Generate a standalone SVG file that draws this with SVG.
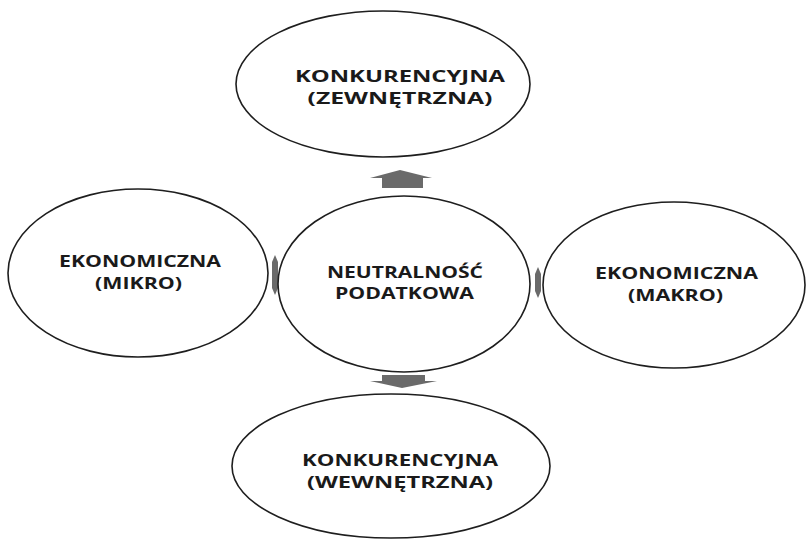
<svg xmlns="http://www.w3.org/2000/svg" width="806" height="543" viewBox="0 0 806 543">
<style>
.node ellipse{fill:#fff;stroke:#1e1e1e;stroke-width:1.6}
.node text{font-family:"Open Sans","DejaVu Sans",sans-serif;font-weight:bold;font-size:16px;fill:#1a1a1a;text-anchor:middle}
.arrow{fill:#6a6a6a}
</style>
<rect width="806" height="543" fill="#fff"/>
<g id="connectors">
<polygon class="arrow" points="400,170 432,178 423,178 423,188 382,188 382,178 370,178"/>
<polygon class="arrow" points="382,375 425,375 425,381 437,381 402,388 370,381 382,381"/>
<polygon class="arrow" points="275,255 278,262 278,288 275,295 272,288 272,262"/>
<polygon class="arrow" points="538,267 541,274 541,291 538,298 535,291 535,274"/>
</g>
<g id="node-top" class="node">
<ellipse cx="383" cy="84" rx="147" ry="73"/>
<text x="400" y="82" textLength="210" lengthAdjust="spacingAndGlyphs">KONKURENCYJNA</text>
<text x="400" y="104" textLength="185" lengthAdjust="spacingAndGlyphs">(ZEWNĘTRZNA)</text>
</g>
<g id="node-center" class="node">
<ellipse cx="404" cy="284" rx="126" ry="88"/>
<text x="405" y="278" textLength="156" lengthAdjust="spacingAndGlyphs">NEUTRALNOŚĆ</text>
<text x="404.5" y="299" textLength="139" lengthAdjust="spacingAndGlyphs">PODATKOWA</text>
</g>
<g id="node-left" class="node">
<ellipse cx="138" cy="273" rx="130" ry="84"/>
<text x="140" y="267" textLength="162" lengthAdjust="spacingAndGlyphs">EKONOMICZNA</text>
<text x="138.5" y="289" textLength="87" lengthAdjust="spacingAndGlyphs">(MIKRO)</text>
</g>
<g id="node-right" class="node">
<ellipse cx="674" cy="285" rx="131" ry="83"/>
<text x="676.5" y="279" textLength="163" lengthAdjust="spacingAndGlyphs">EKONOMICZNA</text>
<text x="675.5" y="301" textLength="95" lengthAdjust="spacingAndGlyphs">(MAKRO)</text>
</g>
<g id="node-bottom" class="node">
<ellipse cx="391" cy="466" rx="159" ry="72"/>
<text x="400" y="466" textLength="196" lengthAdjust="spacingAndGlyphs">KONKURENCYJNA</text>
<text x="400" y="488" textLength="186" lengthAdjust="spacingAndGlyphs">(WEWNĘTRZNA)</text>
</g>
</svg>
